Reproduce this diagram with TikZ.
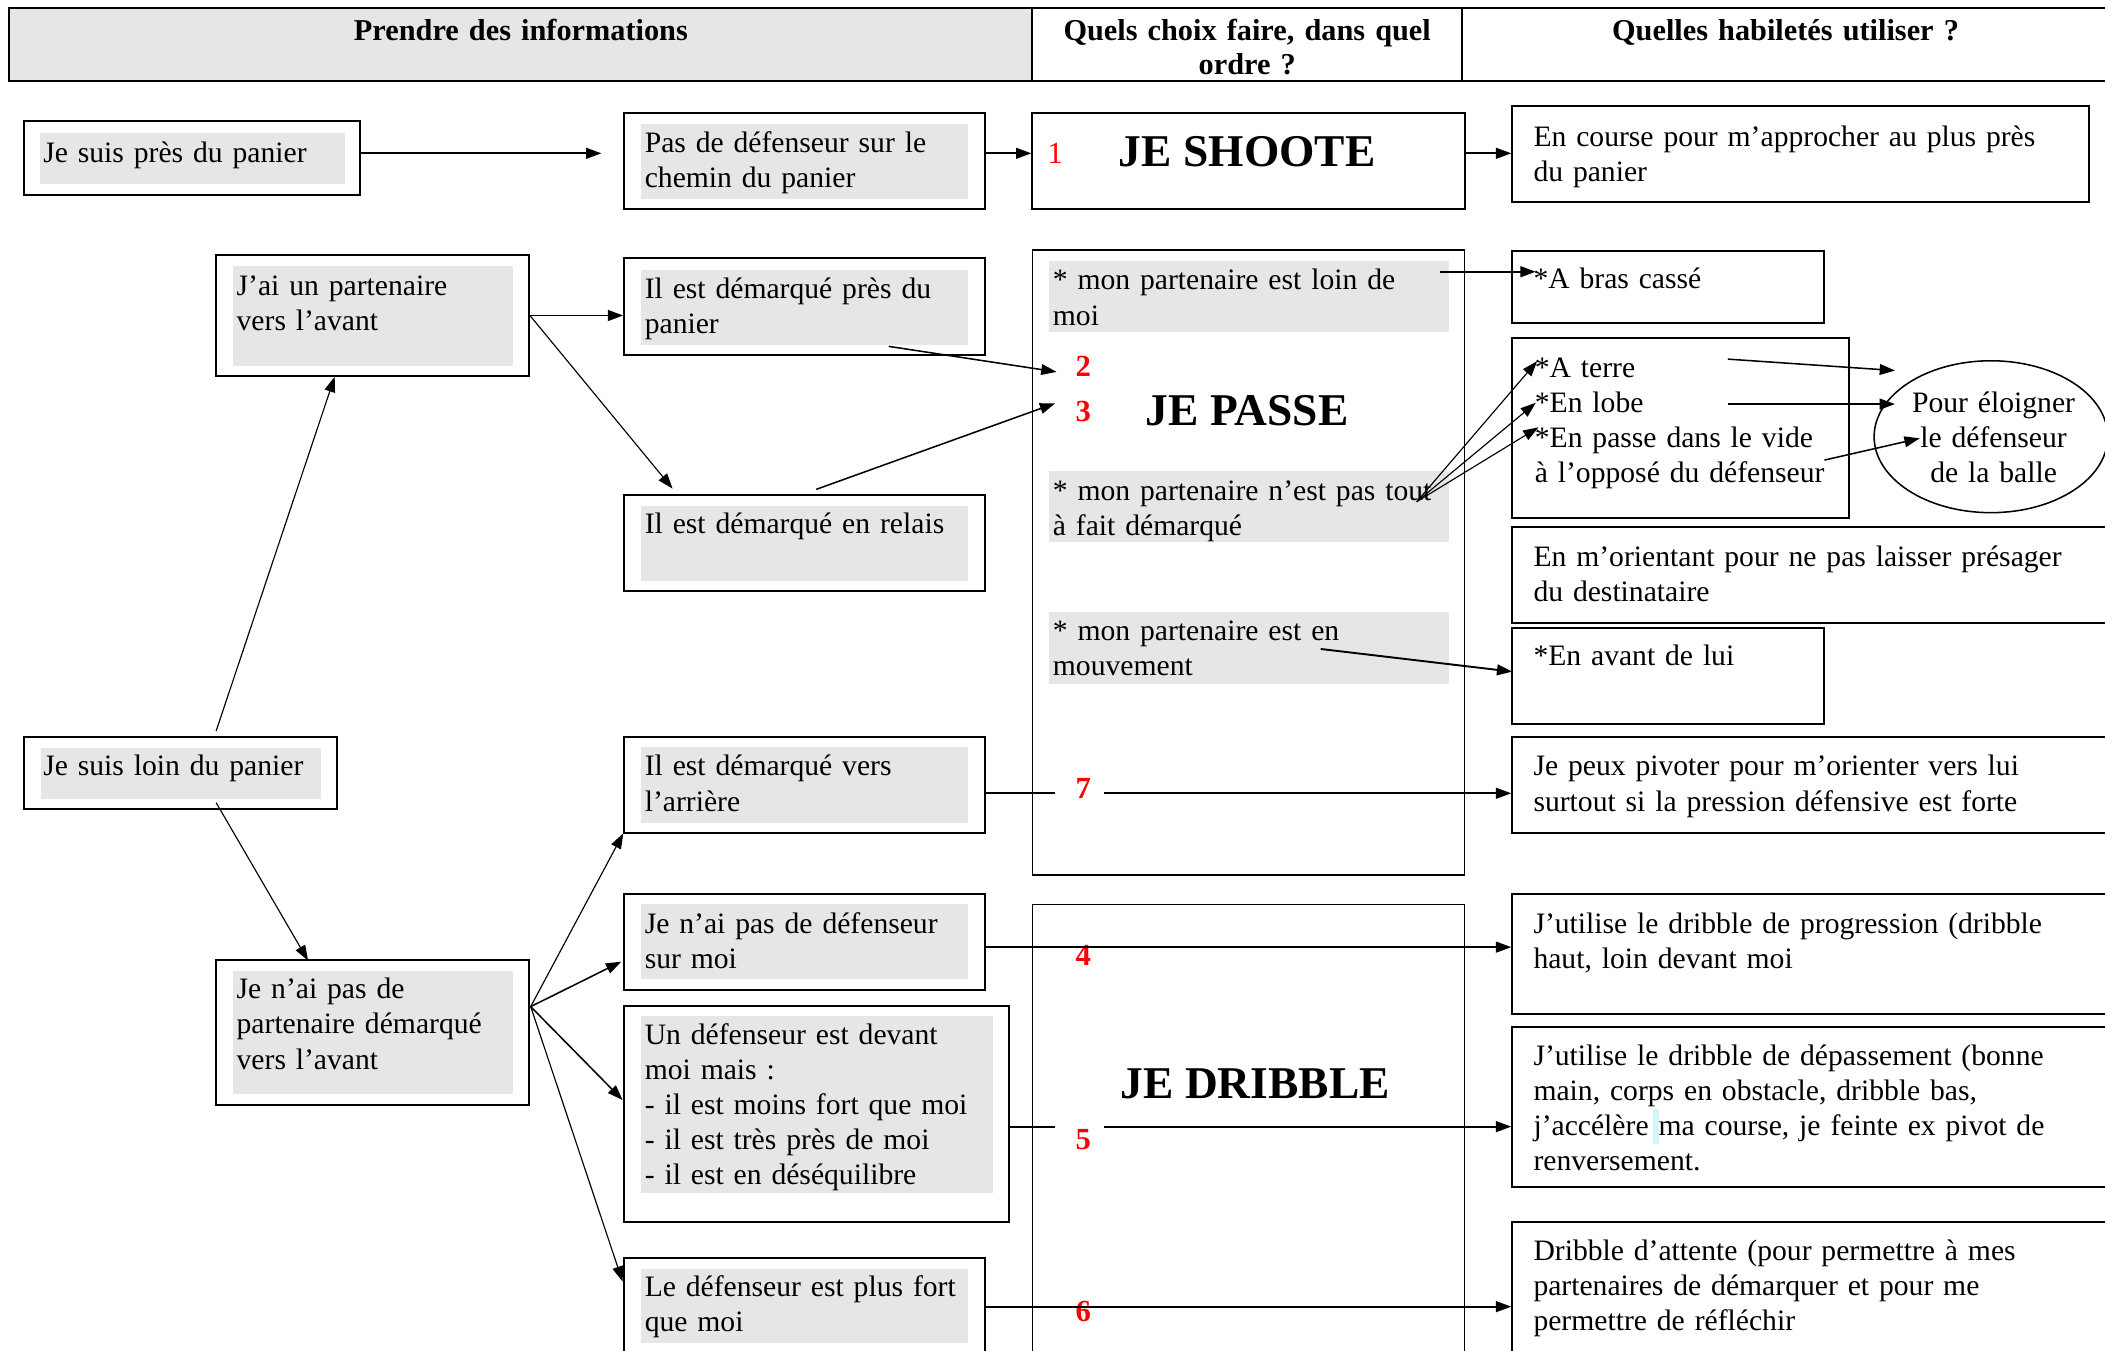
\documentclass[tikz,border=0pt]{standalone}
\usepackage{fontspec}
\setmainfont{Liberation Serif}
\usetikzlibrary{arrows.meta,fit,shapes.geometric}
\definecolor{lg}{HTML}{E6E6E6}
\definecolor{cyanmark}{HTML}{D2F7F7}
\begin{document}
\begin{tikzpicture}[x=0.7pt,y=-0.7pt,
  frame/.style={draw=black, line width=1.05pt, inner sep=0pt},
  colbox/.style={draw=black, line width=0.75pt, inner sep=0pt},
  shade/.style={fill=lg, draw=none, inner sep=0pt},
  txt/.style={anchor=base west, inner sep=0pt, align=left, text width=300pt, font=\fontsize{15.45}{18.3}\selectfont},
  ctxt/.style={anchor=base, inner sep=0pt, align=center, text width=160pt, font=\fontsize{15.45}{18.3}\selectfont},
  head/.style={anchor=base, inner sep=0pt, align=center, text width=300pt, font=\fontsize{15.8}{17.6}\selectfont\bfseries},
  big/.style={inner sep=0pt, font=\fontsize{23.7}{26}\selectfont\bfseries},
  num/.style={inner sep=0pt, text=red, font=\fontsize{16}{18}\selectfont\bfseries},
  arr/.style={-{Triangle[length=8pt,width=5.6pt]}, line width=1pt},
  marr/.style={-{Triangle[length=8pt,width=5.6pt]}, line width=0.8pt},
  tarr/.style={-{Triangle[length=8pt,width=5.6pt]}, line width=0.6pt},
  plainline/.style={line width=1pt},
]
\useasboundingbox (0,0) rectangle (1568,1006);
\clip (0,0) rectangle (1568,1006);

% ---------- header ----------
\node[frame, fill=lg, fit={(7,6.2) (769,60)}] (hdr1) {};
\node[frame, fit={(769,6.2) (1089,60)}] (hdr2) {};
\node[frame, fit={(1089,6.2) (1620,60)}] (hdr3) {};
\node[head] (hdr1t) at (388,30) {Prendre des informations};
\node[head] (hdr2t) at (929,30.5) {Quels choix faire, dans quel\\ordre ?};
\node[head] (hdr3t) at (1330,30) {Quelles habiletés utiliser ?};

% ---------- column 1 ----------
\node[frame, fit={(18,90) (268,145)}] (near) {};
\node[shade, fit={(30,98.8) (257,137)}] (nearg) {};
\node[txt] (neart) at (32,121) {Je suis près du panier};

\node[frame, fit={(161,190) (394,280)}] (jai) {};
\node[shade, fit={(173.7,198) (382,272.4)}] (jaig) {};
\node[txt] (jait) at (176,220) {J’ai un partenaire\\vers l’avant};

\node[frame, fit={(17.6,548.7) (250.8,602.8)}] (loinp) {};
\node[shade, fit={(30.2,556.9) (239.2,595.2)}] (loinpg) {};
\node[txt] (loinpt) at (32,578) {Je suis loin du panier};

\node[frame, fit={(161,715) (394,823)}] (nopart) {};
\node[shade, fit={(173.7,723) (382,814.6)}] (nopartg) {};
\node[txt] (nopartt) at (176,744) {Je n’ai pas de\\partenaire démarqué\\vers l’avant};

% ---------- column 2 ----------
\node[frame, fit={(465,84) (733.5,155.5)}] (pas) {};
\node[shade, fit={(477.4,92) (721,148)}] (pasg) {};
\node[txt] (past) at (480,113.5) {Pas de défenseur sur le\\chemin du panier};

\node[frame, fit={(465,192.4) (733.5,264.4)}] (pres) {};
\node[shade, fit={(477.4,201) (721,257)}] (presg) {};
\node[txt] (prest) at (480,222) {Il est démarqué près du\\panier};

\node[frame, fit={(465,368.7) (733.5,440.2)}] (relais) {};
\node[shade, fit={(477.4,377) (721,432.5)}] (relaisg) {};
\node[txt] (relaist) at (480,397.5) {Il est démarqué en relais};

\node[frame, fit={(465,548.7) (733.5,620.2)}] (arriere) {};
\node[shade, fit={(477.4,556.7) (721,612.8)}] (arriereg) {};
\node[txt] (arrieret) at (480,578) {Il est démarqué vers\\l’arrière};

\node[frame, fit={(465,666) (733.5,737.4)}] (nodef) {};
\node[shade, fit={(477.4,673.4) (721,729.5)}] (nodefg) {};
\node[txt] (nodeft) at (480,695) {Je n’ai pas de défenseur\\sur moi};

\node[frame, fit={(465,749) (751.3,910)}] (undef) {};
\node[shade, fit={(477.4,756.8) (739.3,888.4)}] (undefg) {};
\node[txt] (undeft) at (480,778) {Un défenseur est devant\\moi mais :\\- il est moins fort que moi\\- il est très près de moi\\- il est en déséquilibre};

\node[frame, fit={(465,937.3) (733.5,1040)}] (plusfort) {};
\node[shade, fit={(477.4,945.3) (721,1000.6)}] (plusfortg) {};
\node[txt] (plusfortt) at (480,966) {Le défenseur est plus fort\\que moi};

% ---------- column 3 ----------
\node[frame, fit={(769,84) (1091,156)}] (shoote) {};
\node[num, text=red, font=\fontsize{16}{18}\selectfont] (n1) at (786,114) {1};
\node[big] (shootet) at (929,113) {JE SHOOTE};

\node[colbox, fit={(769,186.2) (1091,651.8)}] (passe) {};
\node[shade, fit={(781.6,194.2) (1079,247)}] (loinmoi) {};
\node[txt] (loinmoit) at (784,216) {* mon partenaire est loin de\\moi};
\node[shade, fit={(781.6,350.6) (1079,404)}] (tout) {};
\node[txt] (toutt) at (784,372.5) {* mon partenaire n’est pas tout\\à fait démarqué};
\node[shade, fit={(781.6,456) (1079,509.3)}] (mouv) {};
\node[txt] (mouvt) at (784,477) {* mon partenaire est en\\mouvement};
\node[num] (n2) at (807,273) {2};
\node[num] (n3) at (807,306.6) {3};
\node[big] (passet) at (929,306) {JE PASSE};
\node[num] (n7) at (807,587.5) {7};

\node[colbox, fit={(769,673.6) (1091,1040)}] (dribble) {};
\node[big] (dribblet) at (935,807.5) {JE DRIBBLE};
\node[num] (n4) at (807,712) {4};
\node[num] (n5) at (807,849) {5};
\node[num] (n6) at (807,977) {6};

% ---------- column 4 ----------
\node[frame, fit={(1126.5,79) (1556,150.5)}] (course) {};
\node[txt] (courset) at (1142,109) {En course pour m’approcher au plus près\\du panier};

\node[frame, fit={(1126.5,186.7) (1359,240.4)}] (bras) {};
\node[txt] (brast) at (1142,215) {*A bras cassé};

\node[frame, fit={(1126.5,251.5) (1377.4,385.6)}] (terre) {};
\node[txt] (terret) at (1143,281) {*A terre\\{}*En lobe\\{}*En passe dans le vide\\à l’opposé du défenseur};

\node[draw, line width=0.8pt, ellipse, inner sep=0pt, minimum width=121.8pt, minimum height=79.2pt] (pour) at (1483,325.3) {};
\node[ctxt] (pourt) at (1485,307) {Pour éloigner\\le défenseur\\de la balle};

\node[frame, fit={(1126.5,392.8) (1620,464.3)}] (orient) {};
\node[txt] (orientt) at (1142,422) {En m’orientant pour ne pas laisser présager\\du destinataire};

\node[frame, fit={(1126.5,468) (1359,539.3)}] (avant) {};
\node[txt] (avantt) at (1142,496) {*En avant de lui};

\node[frame, fit={(1126.5,548.7) (1620,620.7)}] (pivot) {};
\node[txt] (pivott) at (1142,578) {Je peux pivoter pour m’orienter vers lui\\surtout si la pression défensive est forte};

\node[frame, fit={(1126.5,666) (1620,755.3)}] (prog) {};
\node[txt] (progt) at (1142,695) {J’utilise le dribble de progression (dribble\\haut, loin devant moi};

\node[frame, fit={(1126.5,764.8) (1620,884)}] (depass) {};
\fill[cyanmark] (1231,826) rectangle (1236,852);
\node[txt] (depasst) at (1142,793.5) {J’utilise le dribble de dépassement (bonne\\main, corps en obstacle, dribble bas,\\j’accélère ma course, je feinte ex pivot de\\renversement.};

\node[frame, fit={(1126.5,910.5) (1620,1040)}] (attente) {};
\node[txt] (attentet) at (1142,939) {Dribble d’attente (pour permettre à mes\\partenaires de démarquer et pour me\\permettre de réfléchir};

% ---------- named free ends ----------
\coordinate (a1) at (448,114.2);
\coordinate (r1) at (501,364);
\coordinate (s2) at (662,258);
\coordinate (e2) at (787,277);
\coordinate (s3) at (608,364.5);
\coordinate (e3) at (786,300.4);
\coordinate (u0) at (161,544.5);
\coordinate (u1) at (249.3,280.6);
\coordinate (d0) at (161,597.9);
\coordinate (d1) at (229.5,715.6);
\coordinate (o) at (395.3,749.8);
\coordinate (t1) at (464.3,620.7);
\coordinate (t2) at (462.8,716.3);
\coordinate (t3) at (463.8,819.4);
\coordinate (t4) at (463.8,954.7);
\coordinate (b0) at (1073,202.4);
\coordinate (b1) at (1144,202.4);
\coordinate (v0) at (1055.3,373.7);
\coordinate (v1) at (1145,269);
\coordinate (v2) at (1144,300);
\coordinate (v3) at (1146,318.3);
\coordinate (w1s) at (1287,267.5);
\coordinate (w1e) at (1411.6,276);
\coordinate (w2s) at (1287,301);
\coordinate (w2e) at (1411.6,301);
\coordinate (w3s) at (1359,342.7);
\coordinate (w3e) at (1430,326.5);
\coordinate (m0) at (983.7,483.4);
\coordinate (m1) at (1126.5,500.3);
\coordinate (y7) at (786,590.9);
\coordinate (y7b) at (822.6,590.9);
\coordinate (y4) at (0,705.5);
\coordinate (y5) at (786,839.2);
\coordinate (y5b) at (822.6,839.2);
\coordinate (y6) at (0,973.3);

% ---------- connectors ----------
\draw[arr] (near.east |- a1) -- (a1);
\draw[arr] (pas.east |- a1) -- (shoote.west |- a1);
\draw[arr] (shoote.east |- a1) -- (course.west |- a1);

\draw[arr] (jai.east) -- (pres.west |- jai.east);
\draw[tarr] (jai.east) -- (r1);
\draw[marr] (s2) -- (e2);
\draw[marr] (s3) -- (e3);
\draw[tarr] (u0) -- (u1);
\draw[tarr] (d0) -- (d1);

\draw[tarr] (o) -- (t1);
\draw[marr] (o) -- (t2);
\draw[marr] (o) -- (t3);
\draw[tarr] (o) -- (t4);

\draw[arr] (b0) -- (b1);
\draw[tarr] (v0) -- (v1);
\draw[tarr] (v0) -- (v2);
\draw[tarr] (v0) -- (v3);
\draw[marr] (w1s) -- (w1e);
\draw[arr] (w2s) -- (w2e);
\draw[marr] (w3s) -- (w3e);
\draw[arr] (m0) -- (m1);

\draw[plainline] (arriere.east |- y7) -- (y7);
\draw[arr] (y7b) -- (pivot.west |- y7b);
\draw[arr] (nodef.east |- y4) -- (prog.west |- y4);
\draw[plainline] (undef.east |- y5) -- (y5);
\draw[arr] (y5b) -- (depass.west |- y5b);
\draw[arr] (plusfort.east |- y6) -- (attente.west |- y6);
\end{tikzpicture}
\end{document}
